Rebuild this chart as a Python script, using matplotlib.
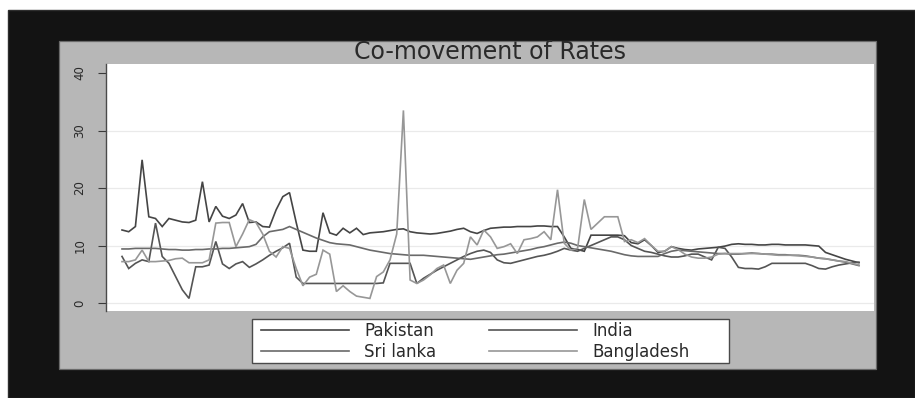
import matplotlib
matplotlib.use("Agg")
import matplotlib.pyplot as plt
from matplotlib.patches import Rectangle

# ---------------- data ----------------
series_names = ["Pakistan", "India", "Sri lanka", "Bangladesh"]

pakistan = [12.7, 12.4, 13.3, 24.9, 15.0, 14.7, 13.3, 14.7, 14.4, 14.1,
            14.0, 14.4, 21.1, 14.1, 16.8, 15.1, 14.7, 15.3, 17.3, 14.0,
            14.1, 13.3, 13.2, 16.2, 18.5, 19.2, 14.0, 9.2, 9.0, 9.0,
            15.7, 12.2, 11.8, 13.0, 12.2, 13.0, 11.9, 12.2, 12.3, 12.4,
            12.6, 12.8, 12.9, 12.4, 12.2, 12.1, 12.0, 12.1, 12.3, 12.5,
            12.8, 13.0, 12.4, 12.1, 12.6, 13.0, 13.1, 13.2, 13.2, 13.3,
            13.3, 13.3, 13.4, 13.4, 13.3, 13.3, 11.5, 9.5, 9.3, 9.0,
            11.8, 11.8, 11.8, 11.8, 11.8, 11.7, 10.5, 10.3, 11.0, 10.0,
            8.8, 9.0, 9.8, 9.5, 9.3, 9.2, 9.4, 9.5, 9.6, 9.7,
            9.9, 10.2, 10.3, 10.2, 10.2, 10.1, 10.1, 10.2, 10.2, 10.1,
            10.1, 10.1, 10.1, 10.0, 9.9, 8.8, 8.4, 8.0, 7.6, 7.3, 7.0]

india = [8.1, 6.0, 6.9, 7.5, 7.2, 13.9, 8.1, 6.9, 4.6, 2.3,
         0.8, 6.3, 6.3, 6.6, 10.7, 6.8, 6.0, 6.8, 7.2, 6.2,
         6.8, 7.5, 8.3, 9.0, 9.6, 10.4, 4.5, 3.4, 3.4, 3.4,
         3.4, 3.4, 3.4, 3.4, 3.4, 3.4, 3.4, 3.4, 3.4, 3.5,
         6.9, 6.9, 6.9, 6.9, 3.4, 4.3, 5.0, 5.7, 6.3, 6.9,
         7.5, 8.1, 8.6, 9.0, 9.2, 8.8, 7.5, 7.0, 6.9, 7.2,
         7.5, 7.8, 8.1, 8.3, 8.6, 9.0, 9.5, 9.2, 9.0, 9.5,
         10.0, 10.5, 11.0, 11.5, 11.5, 11.0, 10.0, 9.5, 9.0, 8.8,
         8.5, 8.2, 8.0, 8.0, 8.2, 8.5, 8.5, 8.0, 7.5, 9.7,
         9.5, 8.0, 6.2, 6.0, 6.0, 5.9, 6.3, 6.9, 6.9, 6.9,
         6.9, 6.9, 6.9, 6.5, 6.0, 5.9, 6.3, 6.6, 6.8, 7.0, 7.1]

srilanka = [9.4, 9.4, 9.5, 9.5, 9.5, 9.5, 9.4, 9.3, 9.3, 9.2,
            9.2, 9.3, 9.3, 9.4, 9.4, 9.5, 9.5, 9.6, 9.7, 9.8,
            10.2, 11.5, 12.4, 12.6, 12.8, 13.3, 12.8, 12.3, 11.8, 11.3,
            10.9, 10.5, 10.3, 10.2, 10.1, 9.8, 9.5, 9.2, 9.0, 8.8,
            8.6, 8.5, 8.4, 8.3, 8.3, 8.3, 8.2, 8.1, 8.0, 7.9,
            7.8, 7.7, 7.6, 7.8, 8.0, 8.2, 8.4, 8.5, 8.7, 8.9,
            9.1, 9.3, 9.6, 9.8, 10.1, 10.4, 10.6, 10.4, 10.0, 9.8,
            9.6, 9.4, 9.2, 9.0, 8.7, 8.4, 8.2, 8.1, 8.1, 8.1,
            8.1, 8.6, 9.0, 9.2, 9.1, 9.0, 8.9, 8.8, 8.7, 8.6,
            8.6, 8.5, 8.5, 8.6, 8.7, 8.6, 8.5, 8.5, 8.4, 8.4,
            8.3, 8.3, 8.2, 8.0, 7.8, 7.7, 7.5, 7.3, 7.1, 6.8, 6.5]

bangladesh = [7.2, 7.2, 7.5, 9.2, 7.2, 7.2, 7.3, 7.4, 7.7, 7.8,
              7.0, 7.0, 7.0, 7.5, 13.9, 14.0, 14.0, 9.8, 12.0, 14.5,
              14.0, 12.0, 9.0, 8.0, 9.8, 9.5, 6.0, 3.0, 4.5, 5.0,
              9.2, 8.5, 2.0, 3.0, 2.0, 1.2, 1.0, 0.8, 4.6, 5.4,
              7.5, 12.0, 33.5, 4.0, 3.4, 4.0, 4.9, 6.0, 6.6, 3.4,
              5.7, 6.9, 11.5, 10.1, 12.7, 11.5, 9.5, 9.8, 10.3, 8.6,
              11.0, 11.2, 11.5, 12.4, 11.0, 19.7, 10.4, 9.2, 9.5, 18.0,
              12.8, 13.9, 15.0, 15.0, 15.0, 10.7, 11.0, 10.5, 11.2, 10.0,
              9.0, 9.0, 9.8, 9.3, 8.5, 8.0, 7.8, 7.8, 8.0, 8.5,
              8.6, 8.6, 8.6, 8.6, 8.6, 8.6, 8.5, 8.4, 8.3, 8.3,
              8.3, 8.2, 8.1, 8.0, 7.8, 7.7, 7.5, 7.3, 7.2, 6.9, 6.6]

y_ticks = [0, 10, 20, 30, 40]
title_text = "Co-movement of Rates"

# ---------------- figure ----------------
W, H = 915, 398
fig = plt.figure(figsize=(W / 100, H / 100), dpi=100, facecolor="white")


def fx(px):
    return px / W


def fy(py):
    return 1 - py / H


# outer black frame
fig.patches.append(Rectangle((fx(8), 0), 1 - fx(8), fy(10), transform=fig.transFigure,
                             facecolor="#131313", edgecolor="#2e2e2e", lw=1.0, zorder=0))
# gray graph region
fig.patches.append(Rectangle((fx(59), fy(369)), fx(876) - fx(59), fy(41) - fy(369),
                             transform=fig.transFigure, facecolor="#b7b7b7",
                             edgecolor="#6a6a6a", lw=0.9, zorder=1))

ax = fig.add_axes([fx(106), fy(311), fx(874) - fx(106), fy(64) - fy(311)])
ax.set_zorder(3)
ax.set_facecolor("white")

colors = ["#454545", "#555555", "#6a6a6a", "#979797"]
data = [pakistan, india, srilanka, bangladesh]
x = list(range(len(pakistan)))
handles = []
for name, vals, c in zip(series_names, data, colors):
    h, = ax.plot(x, vals, color=c, lw=1.2, label=name, solid_joinstyle="miter")
    handles.append(h)

ax.set_xlim(-2.39, 112.24)
ax.set_ylim(-1.39, 41.57)
ax.set_yticks(y_ticks)
ax.set_yticklabels([str(t) for t in y_ticks], rotation=90, va="center",
                   fontsize=8.5, color="#2a2a2a")
ax.tick_params(axis="y", length=6, width=0.8, color="#3a3a3a", pad=8)
ax.set_xticks([])
for t in y_ticks[:-1]:
    ax.axhline(t, color="#eaeaea", lw=0.9, zorder=0)

for s in ["top", "right", "bottom"]:
    ax.spines[s].set_visible(False)
ax.spines["left"].set_color("#4a4a4a")
ax.spines["left"].set_linewidth(1.0)

fig.text(fx(490), fy(52), title_text, ha="center", va="center",
         fontsize=17, color="#2a2a2a", family="DejaVu Sans", zorder=4)

# legend box
fig.patches.append(Rectangle((fx(252), fy(363)), fx(729) - fx(252), fy(319) - fy(363),
                             transform=fig.transFigure, facecolor="white",
                             edgecolor="#4a4a4a", lw=1.0, zorder=2))
order = [0, 2, 1, 3]
leg = fig.legend([handles[i] for i in order], [series_names[i] for i in order],
                 ncol=2, loc="center left", bbox_to_anchor=(fx(261), fy(341.5)),
                 frameon=False, borderpad=0, borderaxespad=0,
                 handlelength=5.28, handletextpad=0.9, columnspacing=3.2,
                 labelspacing=0.15, prop={"size": 12, "family": "DejaVu Sans"})
for t in leg.get_texts():
    t.set_color("#2a2a2a")
leg.set_zorder(5)

fig.savefig("out.png", dpi=100, facecolor="white")
